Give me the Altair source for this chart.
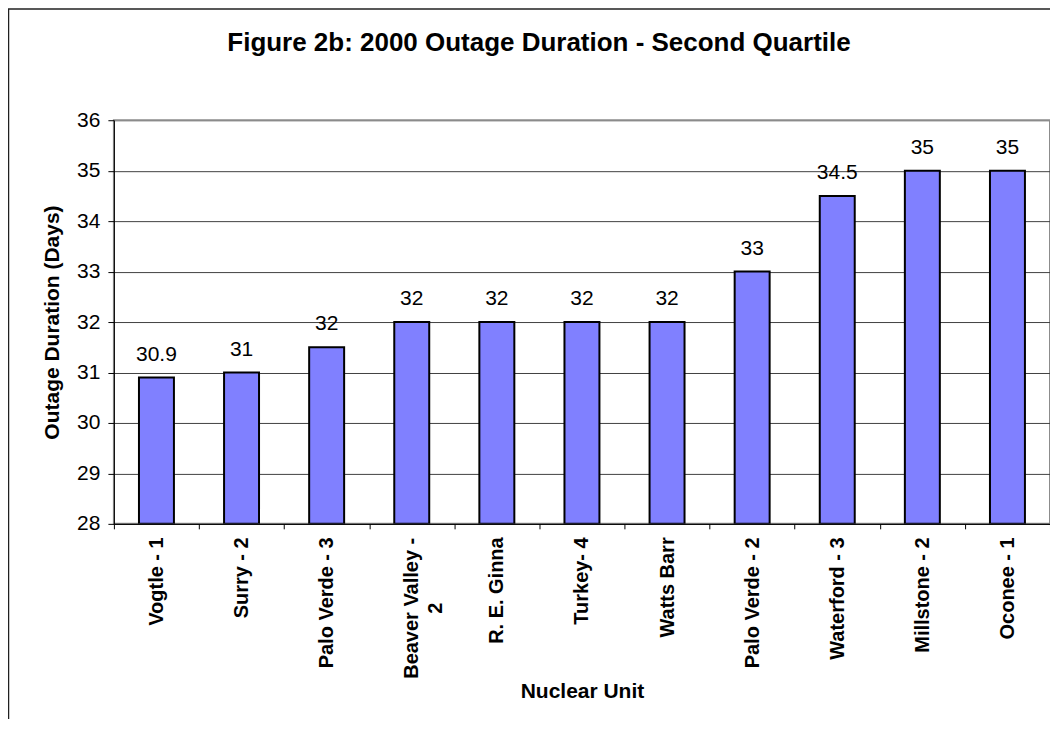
import altair as alt
import pandas as pd

units = ["Vogtle - 1", "Surry - 2", "Palo Verde - 3", "Beaver Valley - 2", "R. E. Ginna",
         "Turkey- 4", "Watts Barr", "Palo Verde - 2", "Waterford - 3", "Millstone - 2", "Oconee - 1"]
days = [30.9, 31, 31.5, 32, 32, 32, 32, 33, 34.5, 35, 35]
labels = ["30.9", "31", "32", "32", "32", "32", "32", "33", "34.5", "35", "35"]
y_ticks = [28, 29, 30, 31, 32, 33, 34, 35, 36]

df = pd.DataFrame({"unit": units, "days": days, "label": labels})

FONT = "Liberation Sans"
WRAP = "datum.value == 'Beaver Valley - 2'"

x_enc = alt.X(
    "unit:N", sort=units,
    scale=alt.Scale(paddingInner=0, paddingOuter=0),
    axis=alt.Axis(
        title="Nuclear Unit", titleFontSize=21, titleFontWeight="bold", titleColor="black",
        titlePadding=2,
        labelAngle=-90, labelFontSize=20, labelFontWeight="bold", labelColor="black",
        labelLineHeight=24,
        labelAlign={"condition": {"test": WRAP, "value": "center"}, "value": "right"},
        labelPadding={"condition": {"test": WRAP, "value": 79}, "value": 8},
        labelExpr=WRAP + " ? ['Beaver Valley -', '2'] : datum.label",
        tickBand="extent", tickSize=5, tickColor="black", domainColor="black",
        grid=False,
    ),
)
y_enc = alt.Y(
    "days:Q",
    scale=alt.Scale(domain=[28, 36], nice=False, zero=False),
    axis=alt.Axis(
        title="Outage Duration (Days)", titleFontSize=21, titleFontWeight="bold", titleColor="black",
        titlePadding=14,
        values=y_ticks, format="d", labelFontSize=21, labelColor="black", labelPadding=8,
        tickSize=6, tickColor="black", domainColor="black",
        grid=True, gridWidth=1,
        gridColor={"condition": {"test": "datum.value == 36", "value": "#8c8c8c"}, "value": "#404040"},
    ),
)

bars = alt.Chart(df).mark_bar(size=35, color="#8080FF", stroke="black", strokeWidth=2, clip=True).encode(
    x=x_enc, y=y_enc, y2=alt.datum(28)
)
text = alt.Chart(df).mark_text(baseline="alphabetic", dy=-17, fontSize=21, color="black").encode(
    x=alt.X("unit:N", sort=units), y="days:Q", text="label:N"
)

frame_data = alt.Data(values=[{}])
left_line = alt.Chart(frame_data).mark_rule(color="#202020", strokeWidth=1.5).encode(
    x=alt.value(-105.5), y=alt.value(-111.25), y2=alt.value(620)
)
top_line = alt.Chart(frame_data).mark_rule(color="#202020", strokeWidth=1.5).encode(
    x=alt.value(-106), x2=alt.value(960), y=alt.value(-111.25)
)

chart = alt.layer(bars, text, left_line, top_line).properties(
    width=937, height=404,
    autosize=alt.AutoSizeParams(type="none"),
    padding={"left": 106, "top": 112, "right": 0, "bottom": 195},
    title=alt.TitleParams(
        "Figure 2b: 2000 Outage Duration - Second Quartile",
        fontSize=26, fontWeight="bold", color="black", anchor="middle", dx=-43,
        baseline="alphabetic", offset=0, dy=69,
    ),
).configure(font=FONT).configure_view(stroke="#8c8c8c", strokeWidth=2)

chart.save("out.html", embed_options={"renderer": "svg", "actions": False})
